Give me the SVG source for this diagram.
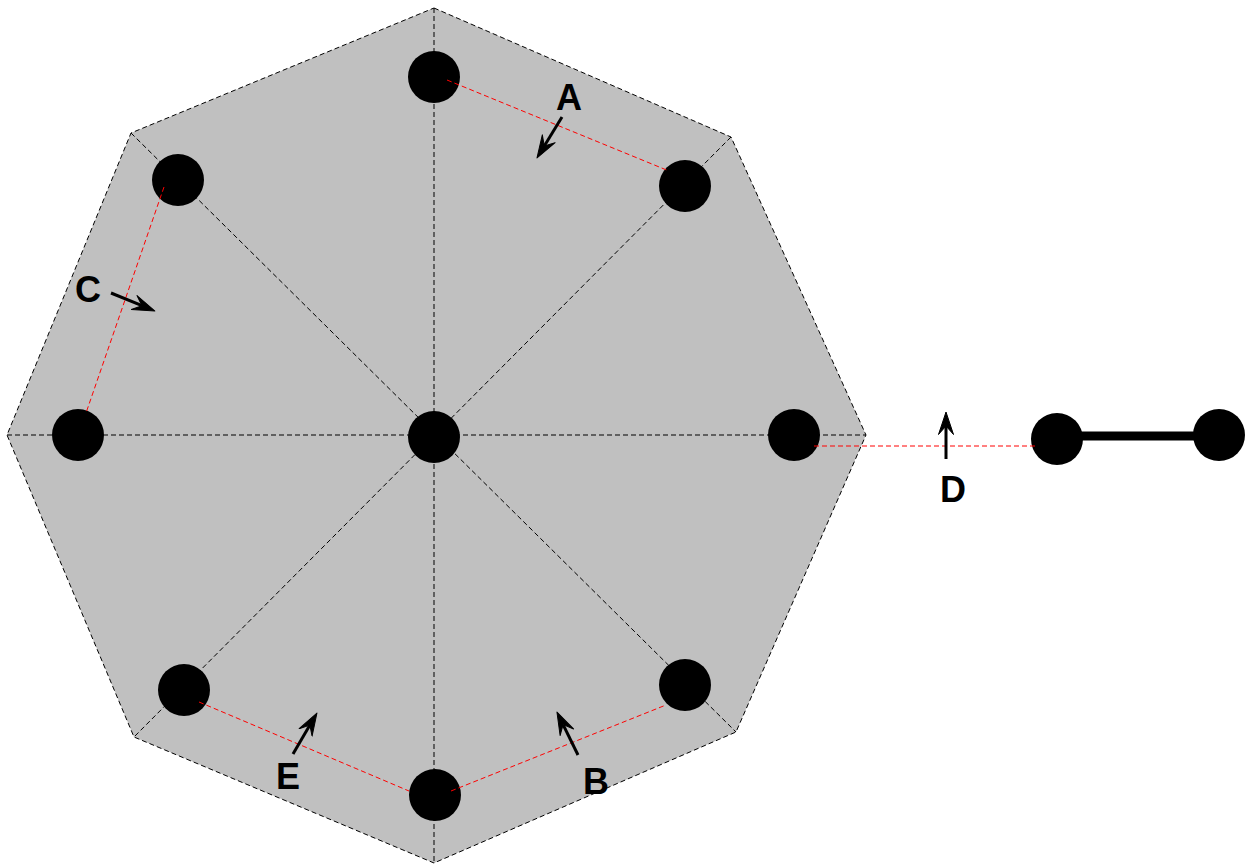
<svg xmlns="http://www.w3.org/2000/svg" width="1249" height="867" viewBox="0 0 1249 867">
<defs>
<style>
.oct{fill:#c0c0c0;stroke:#000;stroke-width:1;stroke-dasharray:5 3}
.spoke{stroke:#000;stroke-width:1;stroke-dasharray:5 3;fill:none}
.red{stroke:#ff0000;stroke-width:1;stroke-dasharray:5 3;fill:none}
.node{fill:#000}
.arr{stroke:#000;stroke-width:3;fill:none;marker-end:url(#ah)}
.lbl{font-family:"Liberation Sans",Arial,sans-serif;font-weight:bold;font-size:36px;fill:#000;text-anchor:middle}
</style>
<marker id="ah" viewBox="0 0 24 18" refX="9" refY="9" markerWidth="24" markerHeight="18" markerUnits="userSpaceOnUse" orient="auto">
<path d="M23,9 L0.5,1.5 L9,9 L0.5,16.5 Z" fill="#000" stroke="#000" stroke-width="1" stroke-linejoin="round"/>
</marker>
</defs>
<g id="octagon">
<polygon class="oct" points="434,8 731,137 866,435 736,732 434,863 134,737 7,435 131,133"/>
</g>
<g id="connectors">
<line class="spoke" x1="434" y1="8" x2="434" y2="863"/>
<line class="spoke" x1="7" y1="435" x2="866" y2="435"/>
<line class="spoke" x1="131" y1="133" x2="736" y2="732"/>
<line class="spoke" x1="731" y1="137" x2="134" y2="737"/>
<line x1="1057" y1="436" x2="1219" y2="436" stroke="#000" stroke-width="9"/>
</g>
<g id="nodes">
<circle id="n-top" class="node" cx="434" cy="77" r="26"/>
<circle id="n-topright" class="node" cx="685" cy="186" r="26"/>
<circle id="n-topleft" class="node" cx="178" cy="180" r="26"/>
<circle id="n-left" class="node" cx="78" cy="435" r="26"/>
<circle id="n-center" class="node" cx="434" cy="437" r="26"/>
<circle id="n-right" class="node" cx="794" cy="435" r="26"/>
<circle id="n-bottomleft" class="node" cx="184" cy="690" r="26"/>
<circle id="n-bottom" class="node" cx="435" cy="795" r="26"/>
<circle id="n-bottomright" class="node" cx="685" cy="685" r="26"/>
<circle id="n-ext1" class="node" cx="1057" cy="439" r="26"/>
<circle id="n-ext2" class="node" cx="1219" cy="435" r="26"/>
</g>
<g id="red-connectors">
<line class="red" x1="447" y1="80" x2="669" y2="171"/>
<line class="red" x1="164" y1="187" x2="86" y2="413"/>
<line class="red" x1="814" y1="446" x2="1035" y2="446"/>
<line class="red" x1="199" y1="702" x2="409" y2="791"/>
<line class="red" x1="451" y1="791" x2="666" y2="705"/>
</g>
<g id="arrows">
<line class="arr" x1="562" y1="117" x2="544.3" y2="146"/>
<line class="arr" x1="111" y1="293" x2="142" y2="305.7"/>
<line class="arr" x1="946" y1="459" x2="946" y2="426"/>
<line class="arr" x1="293" y1="754" x2="309.9" y2="725.1"/>
<line class="arr" x1="578" y1="755" x2="563.1" y2="724.6"/>
</g>
<g id="labels">
<text class="lbl" x="569" y="110">A</text>
<text class="lbl" x="88" y="302">C</text>
<text class="lbl" x="953" y="502">D</text>
<text class="lbl" x="288" y="789">E</text>
<text class="lbl" x="596" y="794">B</text>
</g>
</svg>
